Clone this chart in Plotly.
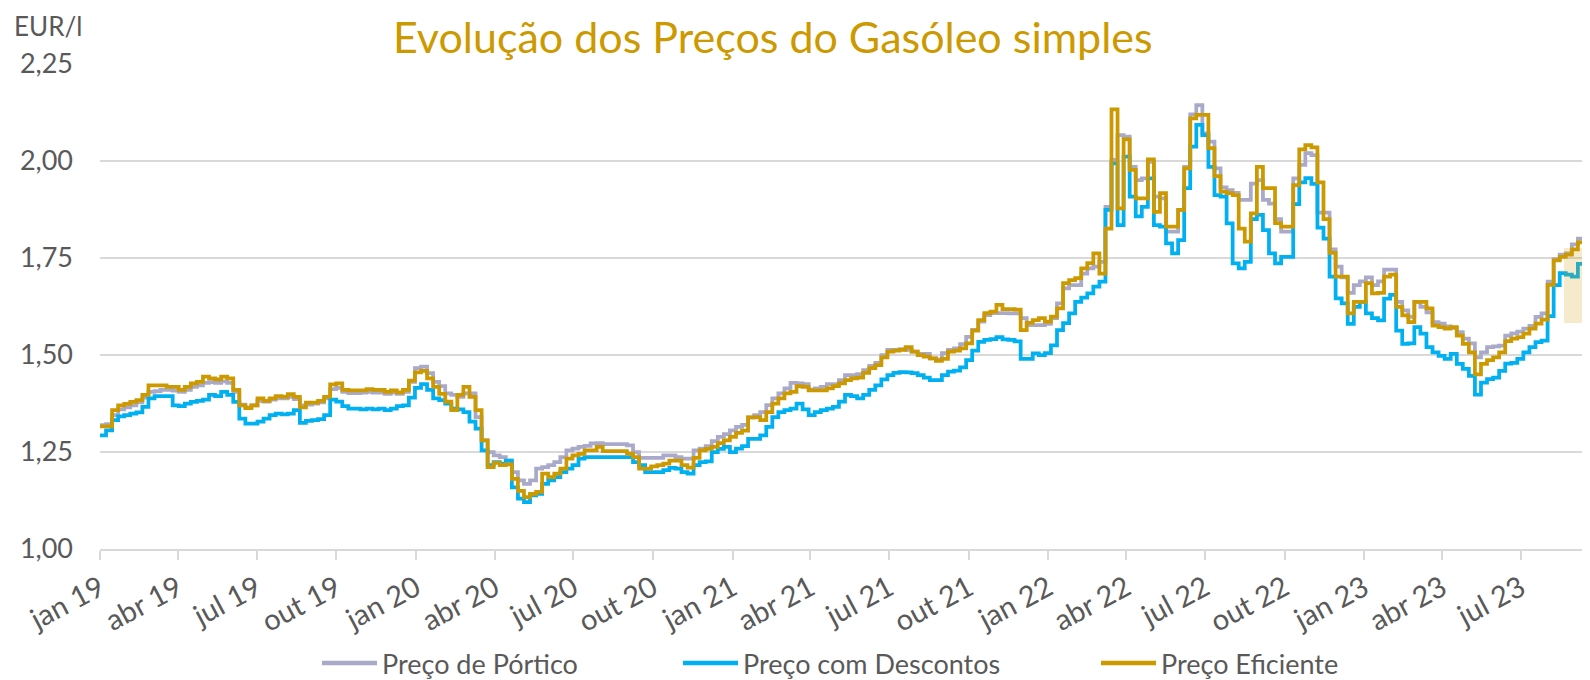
import pandas as pd
import plotly.graph_objects as go

# ---------------- data ----------------
tick_dates = ["2019-01-01", "2019-04-01", "2019-07-01", "2019-10-01",
              "2020-01-01", "2020-04-01", "2020-07-01", "2020-10-01",
              "2021-01-01", "2021-04-01", "2021-07-01", "2021-10-01",
              "2022-01-01", "2022-04-01", "2022-07-01", "2022-10-01",
              "2023-01-01", "2023-04-01", "2023-07-01", "2023-10-01"]
tick_labels = ["jan 19", "abr 19", "jul 19", "out 19",
               "jan 20", "abr 20", "jul 20", "out 20",
               "jan 21", "abr 21", "jul 21", "out 21",
               "jan 22", "abr 22", "jul 22", "out 22",
               "jan 23", "abr 23", "jul 23", "out 23"]
y_ticks = [1.00, 1.25, 1.50, 1.75, 2.00, 2.25]
y_labels = ["1,00", "1,25", "1,50", "1,75", "2,00", "2,25"]

series_names = ["Preço de Pórtico", "Preço com Descontos", "Preço Eficiente"]

# weekly values, EUR/l (first week starting 2019-01-01)
preco_portico = [
    1.319, 1.322, 1.345, 1.360, 1.365, 1.370, 1.378, 1.390, 1.405, 1.407, 1.410,
    1.410, 1.408, 1.405, 1.410, 1.418, 1.422, 1.428, 1.430, 1.428, 1.432,
    1.428, 1.405, 1.372, 1.365, 1.370, 1.382, 1.380, 1.385, 1.388, 1.388,
    1.392, 1.386, 1.370, 1.372, 1.375, 1.378, 1.388, 1.412, 1.415, 1.405,
    1.402, 1.402, 1.403, 1.405, 1.403, 1.403, 1.400, 1.403, 1.400, 1.405,
    1.431, 1.466, 1.470, 1.453, 1.431, 1.420, 1.401, 1.397, 1.392, 1.401,
    1.401, 1.340, 1.280, 1.250, 1.241, 1.237, 1.228, 1.198, 1.177, 1.168,
    1.177, 1.207, 1.211, 1.216, 1.224, 1.237, 1.254, 1.259, 1.263, 1.266,
    1.272, 1.273, 1.270, 1.270, 1.270, 1.270, 1.267, 1.250, 1.235, 1.235,
    1.235, 1.235, 1.241, 1.241, 1.237, 1.233, 1.233, 1.254, 1.259, 1.265,
    1.278, 1.289, 1.296, 1.306, 1.315, 1.320, 1.339, 1.345, 1.353, 1.371,
    1.388, 1.401, 1.414, 1.428, 1.427, 1.425, 1.411, 1.414, 1.418, 1.425,
    1.425, 1.435, 1.448, 1.448, 1.451, 1.461, 1.472, 1.480, 1.500, 1.513,
    1.513, 1.515, 1.513, 1.509, 1.503, 1.503, 1.491, 1.489, 1.505, 1.513,
    1.517, 1.528, 1.547, 1.565, 1.586, 1.603, 1.608, 1.608, 1.608,
    1.607, 1.607, 1.595, 1.577, 1.577, 1.577, 1.580, 1.595, 1.633, 1.672,
    1.680, 1.680, 1.710, 1.723, 1.728, 1.740, 1.882, 2.003, 2.067, 2.063,
    1.985, 1.951, 1.955, 1.998, 1.908, 1.904, 1.818, 1.818, 1.874, 1.985,
    2.120, 2.144, 2.071, 2.050, 1.981, 1.932, 1.925, 1.918, 1.900, 1.900,
    1.942, 1.951, 1.900, 1.890, 1.850, 1.818, 1.818, 1.955, 1.990, 2.020,
    2.015, 1.867, 1.867, 1.772, 1.728, 1.700, 1.660, 1.680, 1.690, 1.700,
    1.680, 1.690, 1.720, 1.720, 1.637, 1.615, 1.598, 1.637, 1.624, 1.610,
    1.585, 1.581, 1.574, 1.570, 1.559, 1.542, 1.530, 1.494, 1.507, 1.520,
    1.522, 1.524, 1.550, 1.556, 1.560, 1.568, 1.575, 1.598, 1.607, 1.689,
    1.747, 1.759, 1.762, 1.785, 1.800, 1.872, 1.872,
]

preco_descontos = [
    1.293, 1.306, 1.332, 1.342, 1.345, 1.349, 1.352, 1.366, 1.388, 1.394, 1.394,
    1.394, 1.370, 1.368, 1.375, 1.379, 1.382, 1.385, 1.397, 1.394, 1.405,
    1.397, 1.379, 1.336, 1.323, 1.323, 1.328, 1.336, 1.345, 1.349, 1.347,
    1.349, 1.358, 1.325, 1.330, 1.332, 1.335, 1.345, 1.385, 1.380, 1.368,
    1.362, 1.362, 1.360, 1.362, 1.360, 1.362, 1.358, 1.362, 1.368, 1.370,
    1.390, 1.415, 1.425, 1.410, 1.388, 1.384, 1.375, 1.362, 1.360, 1.353,
    1.328, 1.310, 1.254, 1.216, 1.224, 1.220, 1.228, 1.159, 1.130, 1.121,
    1.138, 1.142, 1.168, 1.177, 1.185, 1.198, 1.207, 1.216, 1.233, 1.237,
    1.237, 1.237, 1.237, 1.237, 1.237, 1.237, 1.237, 1.224, 1.216, 1.198,
    1.198, 1.198, 1.203, 1.209, 1.207, 1.198, 1.194, 1.216, 1.224, 1.226,
    1.250, 1.258, 1.263, 1.250, 1.259, 1.265, 1.284, 1.284, 1.293, 1.315,
    1.340, 1.353, 1.358, 1.362, 1.375, 1.360, 1.345, 1.353, 1.358, 1.362,
    1.366, 1.380, 1.397, 1.394, 1.388, 1.397, 1.410, 1.422, 1.437, 1.448,
    1.454, 1.456, 1.455, 1.453, 1.448, 1.442, 1.435, 1.435, 1.448, 1.457,
    1.460, 1.468, 1.487, 1.511, 1.534, 1.539, 1.541, 1.546, 1.540,
    1.539, 1.535, 1.490, 1.490, 1.504, 1.500, 1.505, 1.525, 1.564, 1.582,
    1.607, 1.637, 1.648, 1.659, 1.676, 1.689, 1.874, 1.994, 1.835, 2.011,
    1.908, 1.857, 1.882, 1.955, 1.835, 1.831, 1.788, 1.762, 1.796, 1.930,
    2.037, 2.093, 2.067, 1.985, 1.912, 1.908, 1.839, 1.736, 1.723, 1.740,
    1.850, 1.861, 1.822, 1.762, 1.736, 1.753, 1.753, 1.889, 1.945, 1.956,
    1.941, 1.828, 1.800, 1.702, 1.646, 1.633, 1.580, 1.624, 1.637, 1.607,
    1.595, 1.589, 1.645, 1.655, 1.563, 1.529, 1.530, 1.572, 1.555, 1.520,
    1.507, 1.498, 1.490, 1.503, 1.477, 1.464, 1.446, 1.398, 1.429, 1.438,
    1.442, 1.459, 1.478, 1.480, 1.490, 1.507, 1.520, 1.533, 1.537, 1.600,
    1.680, 1.711, 1.707, 1.702, 1.735, 1.780, 1.800,
]

preco_eficiente = [
    1.316, 1.316, 1.358, 1.370, 1.374, 1.379, 1.384, 1.397, 1.422, 1.422, 1.422,
    1.418, 1.418, 1.410, 1.418, 1.427, 1.431, 1.444, 1.440, 1.437, 1.444,
    1.440, 1.410, 1.370, 1.363, 1.370, 1.388, 1.382, 1.388, 1.394, 1.392,
    1.399, 1.392, 1.365, 1.377, 1.377, 1.382, 1.392, 1.424, 1.427, 1.410,
    1.409, 1.409, 1.409, 1.412, 1.410, 1.410, 1.405, 1.409, 1.404, 1.410,
    1.434, 1.455, 1.459, 1.440, 1.418, 1.400, 1.380, 1.358, 1.397, 1.418,
    1.392, 1.358, 1.280, 1.211, 1.222, 1.216, 1.218, 1.181, 1.150, 1.134,
    1.142, 1.147, 1.194, 1.185, 1.194, 1.207, 1.233, 1.241, 1.245, 1.254,
    1.254, 1.263, 1.252, 1.252, 1.252, 1.252, 1.246, 1.237, 1.207, 1.207,
    1.213, 1.216, 1.220, 1.228, 1.228, 1.216, 1.210, 1.235, 1.254, 1.258,
    1.263, 1.273, 1.280, 1.289, 1.299, 1.305, 1.339, 1.340, 1.332, 1.353,
    1.375, 1.388, 1.401, 1.405, 1.420, 1.418, 1.409, 1.409, 1.409, 1.414,
    1.420, 1.427, 1.435, 1.440, 1.442, 1.454, 1.466, 1.474, 1.494, 1.509,
    1.511, 1.513, 1.520, 1.509, 1.500, 1.496, 1.491, 1.485, 1.490, 1.509,
    1.511, 1.517, 1.530, 1.563, 1.590, 1.608, 1.612, 1.629, 1.618,
    1.618, 1.617, 1.564, 1.583, 1.590, 1.595, 1.586, 1.599, 1.620, 1.685,
    1.693, 1.698, 1.723, 1.737, 1.762, 1.710, 1.826, 2.133, 1.878, 2.056,
    1.977, 1.904, 1.904, 2.004, 1.869, 1.917, 1.831, 1.831, 1.874, 1.981,
    2.110, 2.119, 2.119, 2.033, 1.961, 1.921, 1.917, 1.912, 1.826, 1.792,
    1.865, 1.985, 1.930, 1.930, 1.840, 1.831, 1.831, 1.938, 2.030, 2.041,
    2.035, 1.945, 1.850, 1.763, 1.702, 1.702, 1.607, 1.637, 1.637, 1.685,
    1.659, 1.660, 1.702, 1.707, 1.624, 1.602, 1.585, 1.637, 1.637, 1.620,
    1.576, 1.572, 1.568, 1.572, 1.550, 1.529, 1.507, 1.450, 1.477, 1.487,
    1.494, 1.507, 1.536, 1.542, 1.546, 1.555, 1.568, 1.581, 1.591, 1.681,
    1.744, 1.753, 1.759, 1.772, 1.790, 1.872, 1.872,
]

series_values = [preco_portico, preco_descontos, preco_eficiente]
series_colors = ["#A9A9C9", "#00B0F0", "#CC9A00"]

dates = pd.date_range("2019-01-01", periods=len(preco_eficiente), freq="7D")

# ---------------- figure ----------------
# The page body has an 8px margin, so the figure is sized to end exactly at
# the window edge and all positions below are given in window pixels.
OFF = 8
FONT = "Lato"
TXT = "#595959"
GRID = "#D9D9D9"
W, H = 1590 - OFF, 680 - OFF
ML, MR, MT, MB = 92, 0, 56, 131
PW, PH = W - ML - MR, H - MT - MB


def px_x(px):
    return (px - OFF - ML) / PW


def px_y(py):
    return (H - MB - (py - OFF)) / PH


fig = go.Figure()
for name, vals, col in zip(series_names, series_values, series_colors):
    fig.add_trace(go.Scatter(
        x=dates, y=vals, name=name, mode="lines",
        line=dict(color=col, width=3.75, shape="hv"),
        showlegend=False,
    ))

x_range = ["2019-01-01", "2023-09-19"]

fig.update_layout(
    width=W, height=H,
    margin=dict(l=ML, r=MR, t=MT, b=MB),
    plot_bgcolor="white", paper_bgcolor="white",
    font=dict(family=FONT, color=TXT),
    showlegend=False,
    xaxis=dict(
        type="date", range=x_range,
        tickmode="array", tickvals=tick_dates, ticktext=tick_labels,
        tickangle=-28, tickfont=dict(size=29, color=TXT, family=FONT),
        ticks="outside", ticklen=9, tickwidth=2, tickcolor=GRID,
        showline=True, linecolor=GRID, linewidth=2,
        showgrid=False, zeroline=False,
    ),
    xaxis2=dict(
        type="date", range=x_range, overlaying="x", anchor="y", side="bottom",
        tickmode="array", tickvals=tick_dates,
        ticks="inside", ticklen=9, tickwidth=2, tickcolor=GRID,
        showticklabels=False, showline=False, showgrid=False, zeroline=False,
    ),
    yaxis=dict(
        range=[1.0, 2.25], tickmode="array", tickvals=y_ticks, ticktext=y_labels,
        tickfont=dict(size=27, color=TXT, family=FONT),
        showgrid=True, gridcolor=GRID, gridwidth=2,
        zeroline=False, showline=False, ticks="", ticklabelstandoff=26,
    ),
)

# semi-transparent highlight box at the right edge
fig.add_shape(type="rect", xref="paper", yref="paper",
              x0=px_x(1564), x1=1.01, y0=px_y(323), y1=px_y(248),
              fillcolor="rgba(204,154,0,0.2)", line=dict(width=0), layer="above")

# title
fig.add_annotation(text="Evolução dos Preços do Gasóleo simples",
                   xref="paper", yref="paper", x=px_x(773), y=px_y(OFF + 1),
                   xanchor="center", yanchor="top", showarrow=False,
                   font=dict(size=43, color="#CC9A00", family=FONT))

# unit label
fig.add_annotation(text="EUR/l", xref="paper", yref="paper",
                   x=px_x(12), y=px_y(26), xanchor="left", yanchor="middle",
                   showarrow=False, font=dict(size=26, color=TXT, family=FONT))

# custom legend
legend_line_x = [(322, 377), (683, 738), (1101, 1156)]
legend_y = 663
for (x0, x1), name, col in zip(legend_line_x, series_names, series_colors):
    fig.add_shape(type="line", xref="paper", yref="paper",
                  x0=px_x(x0), x1=px_x(x1), y0=px_y(legend_y), y1=px_y(legend_y),
                  line=dict(color=col, width=4.5))
    fig.add_annotation(text=name, xref="paper", yref="paper",
                       x=px_x(x1 + 3), y=px_y(legend_y), xanchor="left", yanchor="middle",
                       showarrow=False, font=dict(size=27, color=TXT, family=FONT))

fig.write_html("out.html")
